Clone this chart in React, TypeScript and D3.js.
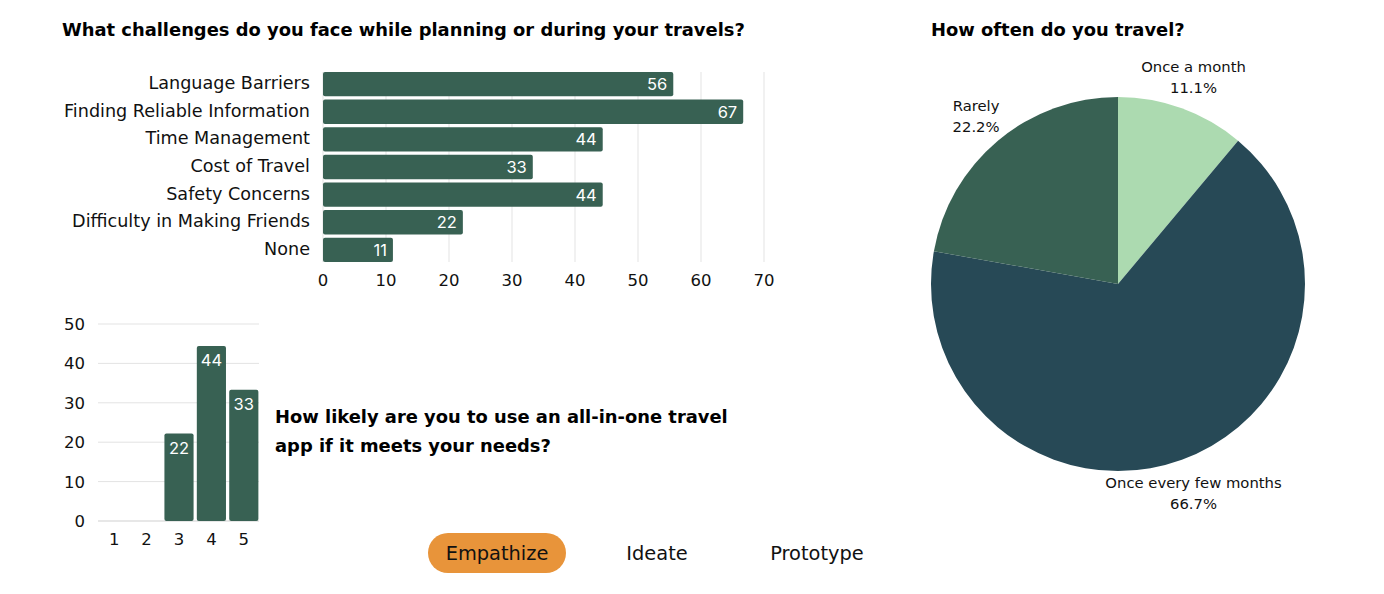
import * as d3 from 'd3';

const challengeCategories = [
  'Language Barriers',
  'Finding Reliable Information',
  'Time Management',
  'Cost of Travel',
  'Safety Concerns',
  'Difficulty in Making Friends',
  'None',
];
// shares of respondents in %, labels show them rounded
const challengeValues = [55.6, 66.7, 44.4, 33.3, 44.4, 22.2, 11.1];
const challengeTicks = [0, 10, 20, 30, 40, 50, 60, 70];

const likelyCategories = ['1', '2', '3', '4', '5'];
const likelyValues = [0, 0, 22.2, 44.4, 33.3];
const likelyTicks = [0, 10, 20, 30, 40, 50];

const travelLabels = ['Once a month', 'Once every few months', 'Rarely'];
const travelShares = [11.1, 66.7, 22.2];
const travelColors = ['#acdab0', '#274956', '#386153'];

const stages = ['Empathize', 'Ideate', 'Prototype'];

const BAR = '#386153';
const GRID = '#e3e3e3';
const FONT = "'DejaVu Sans', 'Open Sans', sans-serif";
const NUM_FONT = "Inter, Roboto, sans-serif";
const TITLE_SIZE = 17.9;

function ChallengesChart() {
  const x = d3.scaleLinear().domain([0, 70]).range([323, 764]);
  const y = d3.scaleBand().domain(challengeCategories).range([72, 262]).paddingInner(0.12);
  return (
    <g>
      <text x={62} y={36} fontFamily={FONT} fontWeight={700} fontSize={TITLE_SIZE} fill="#000">
        What challenges do you face while planning or during your travels?
      </text>
      {challengeTicks.map((t) => (
        <g key={t}>
          <line x1={x(t)} x2={x(t)} y1={72} y2={262} stroke={GRID} strokeWidth={1} />
          <text x={x(t)} y={286} textAnchor="middle" fontFamily={FONT} fontSize={16.5} fill="#111">
            {t}
          </text>
        </g>
      ))}
      {challengeCategories.map((c, i) => {
        const y0 = y(c)!;
        const v = challengeValues[i];
        return (
          <g key={c}>
            <rect x={x(0)} y={y0} width={x(v) - x(0)} height={y.bandwidth()} rx={2} fill={BAR} />
            <text x={x(v) - 6} y={y0 + y.bandwidth() / 2 + 6} textAnchor="end" fontFamily={NUM_FONT} fontSize={16.5} fill="#fff">
              {Math.round(v)}
            </text>
            <text x={310} y={y0 + y.bandwidth() / 2 + 5} textAnchor="end" fontFamily={FONT} fontSize={17.6} fill="#111">
              {c}
            </text>
          </g>
        );
      })}
    </g>
  );
}

function LikelyChart() {
  const x = d3.scaleBand().domain(likelyCategories).range([98, 260]).paddingInner(0.1).paddingOuter(0.05);
  const y = d3.scaleLinear().domain([0, 50]).range([521, 324]);
  return (
    <g>
      {likelyTicks.map((t) => (
        <g key={t}>
          <line x1={98} x2={259} y1={y(t)} y2={y(t)} stroke={t === 0 ? '#cfcfcf' : GRID} strokeWidth={1} />
          <text x={85} y={y(t) + 6} textAnchor="end" fontFamily={FONT} fontSize={16.5} fill="#111">
            {t}
          </text>
        </g>
      ))}
      {likelyCategories.map((c, i) => {
        const v = likelyValues[i];
        const x0 = x(c)!;
        return (
          <g key={c}>
            {v > 0 && (
              <>
                <rect x={x0} y={y(v)} width={x.bandwidth()} height={y(0) - y(v)} rx={2} fill={BAR} />
                <text x={x0 + x.bandwidth() / 2} y={y(v) + 20} textAnchor="middle" fontFamily={NUM_FONT} fontSize={16.5} fill="#fff">
                  {Math.round(v)}
                </text>
              </>
            )}
            <text x={x0 + x.bandwidth() / 2} y={545} textAnchor="middle" fontFamily={FONT} fontSize={16.5} fill="#111">
              {c}
            </text>
          </g>
        );
      })}
      <text fontFamily={FONT} fontWeight={700} fontSize={TITLE_SIZE} fill="#000">
        <tspan x={275} y={423}>How likely are you to use an all-in-one travel</tspan>
        <tspan x={275} y={452}>app if it meets your needs?</tspan>
      </text>
    </g>
  );
}

function TravelPie() {
  const cx = 1118;
  const cy = 284;
  const r = 187;
  const pie = d3.pie<number>().sort(null).value((d) => d);
  const arcs = pie(travelShares);
  const arc = d3.arc<d3.PieArcDatum<number>>().innerRadius(0).outerRadius(r);
  const labelArc = d3.arc<d3.PieArcDatum<number>>().innerRadius(221).outerRadius(221);
  return (
    <g>
      <text x={931} y={36} fontFamily={FONT} fontWeight={700} fontSize={TITLE_SIZE} fill="#000">
        How often do you travel?
      </text>
      <g transform={`translate(${cx},${cy})`}>
        {arcs.map((a, i) => (
          <path key={i} d={arc(a)!} fill={travelColors[i]} />
        ))}
        {arcs.map((a, i) => {
          const [lx, ly] = labelArc.centroid(a);
          return (
            <text key={'l' + i} textAnchor="middle" fontFamily={FONT} fontSize={14.8} fill="#111">
              <tspan x={lx} y={ly - 4}>{travelLabels[i]}</tspan>
              <tspan x={lx} y={ly + 17}>{travelShares[i].toFixed(1)}%</tspan>
            </text>
          );
        })}
      </g>
    </g>
  );
}

function StageTabs() {
  const x = d3.scalePoint().domain(stages).range([497, 817]);
  return (
    <g>
      {stages.map((s, i) => (
        <g key={s}>
          {i === 0 && <rect x={x(s)! - 69} y={533} width={138} height={40} rx={20} fill="#e8943a" />}
          <text x={x(s)} y={560} textAnchor="middle" fontFamily={FONT} fontSize={19.4} fill="#111">
            {s}
          </text>
        </g>
      ))}
    </g>
  );
}

export default function App() {
  return (
    <svg width={1384} height={594} style={{ position: 'absolute', left: 0, top: 0, background: '#fff' }}>
      <ChallengesChart />
      <LikelyChart />
      <TravelPie />
      <StageTabs />
    </svg>
  );
}
